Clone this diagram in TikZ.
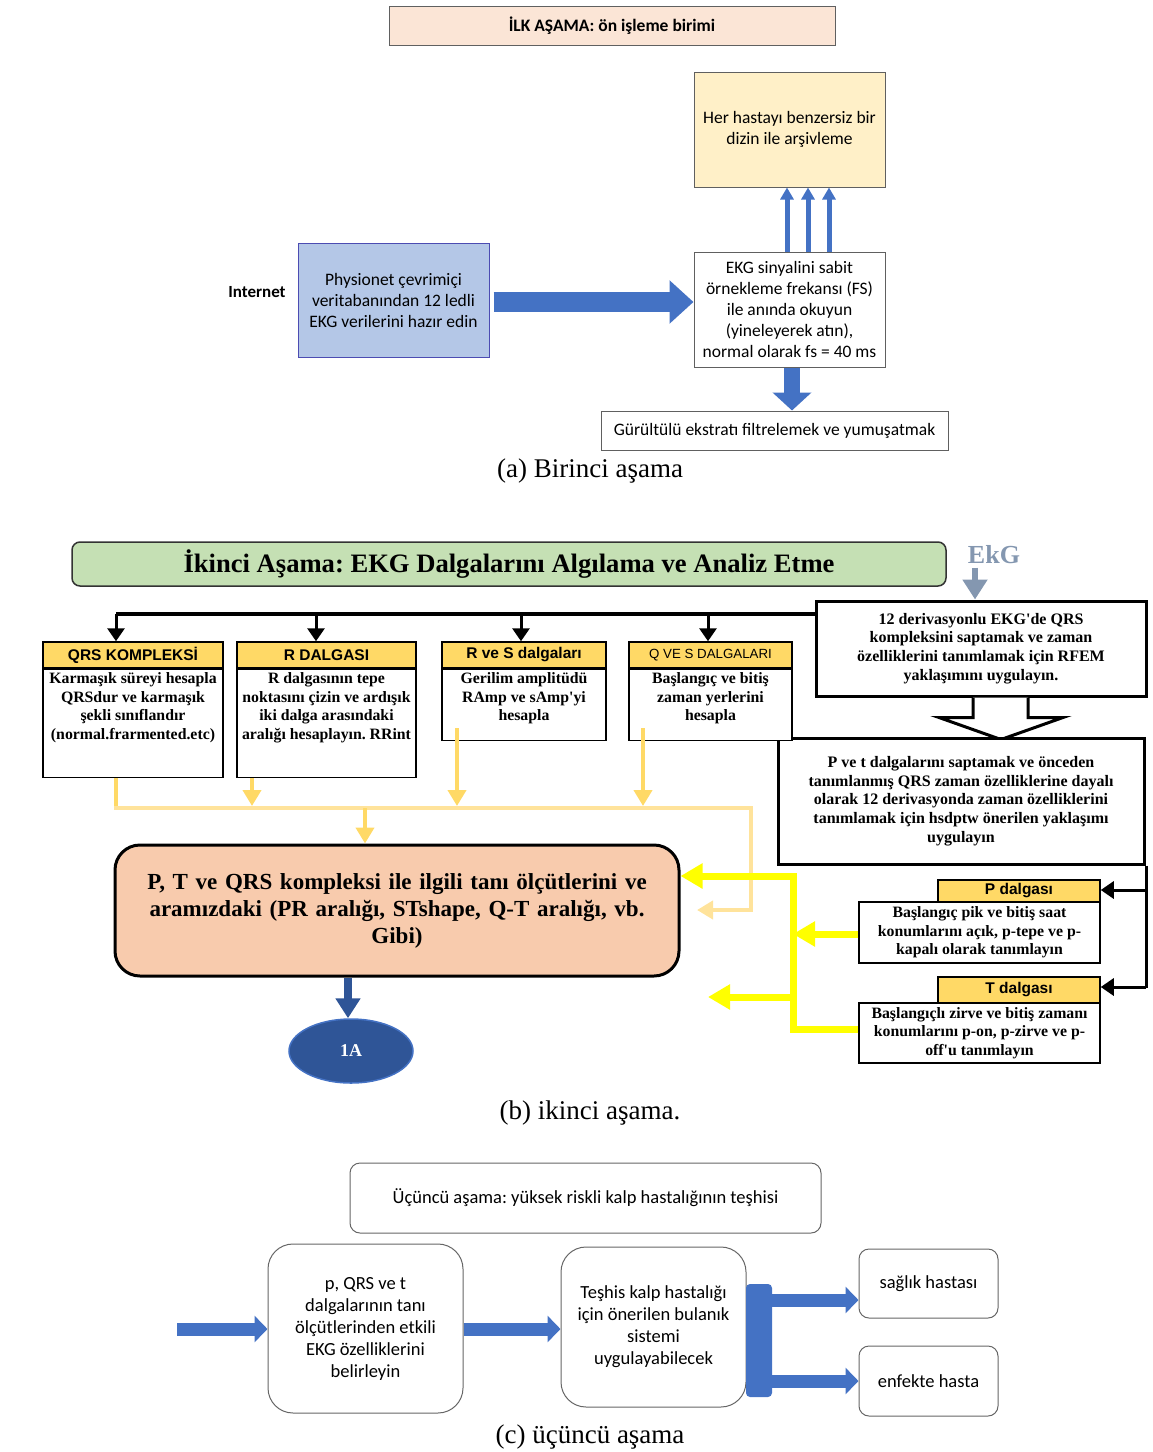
\documentclass[tikz,border=0pt]{standalone}
\usepackage{fontspec}
\setmainfont{Liberation Serif}
\newfontfamily\calfont{Carlito}
\newfontfamily\arifont{Liberation Sans}
\usetikzlibrary{shapes.geometric,arrows.meta,calc}
\definecolor{pinkA}{HTML}{FBE5D6}
\definecolor{yelA}{HTML}{FFF0C8}
\definecolor{blueA}{HTML}{B4C7E7}
\definecolor{blueB}{HTML}{4472C4}
\definecolor{greenB}{HTML}{C5E0B4}
\definecolor{goldc}{HTML}{FFD966}
\definecolor{lightY}{HTML}{FFE39B}
\definecolor{yelc}{HTML}{FFFF00}
\definecolor{peach}{HTML}{F8CBAD}
\definecolor{dblue}{HTML}{2F5597}
\definecolor{ekgc}{HTML}{8497B0}
\newcommand\topbox[3]{\parbox[c][#2][t]{#1}{\centering\vspace*{3pt}#3\par}}
\frenchspacing
\begin{document}
\begin{tikzpicture}[x=1pt,y=-1pt,
  abox/.style={draw=gray!75!black, line width=1, align=center, inner sep=0, font=\calfont\fontsize{17.5}{21}\selectfont},
  hdr/.style={draw=black, line width=1.5, fill=goldc, inner sep=0, font=\arifont\bfseries\fontsize{15.5}{17}\selectfont},
  bod/.style={draw=black, line width=1.5, fill=white, inner sep=0, font=\bfseries\fontsize{15.8}{18.7}\selectfont},
  bbox/.style={draw=black, line width=3, fill=white, align=center, inner sep=0, font=\bfseries\fontsize{16}{18.7}\selectfont},
  cbox/.style={draw=gray!80!black, line width=1, fill=white, align=center, inner sep=0, rounded corners=25, font=\calfont\fontsize{18.5}{22}\selectfont},
  captext/.style={font=\fontsize{27}{30}\selectfont},
  gtip/.style={-{Triangle[length=16pt,width=18pt]}},
  ytip/.style={-{Triangle[length=22pt,width=24pt]}},
  ktip/.style={-{Triangle[length=13pt,width=17pt]}},
  ctip/.style={-{Triangle[length=13pt,width=26pt]}},
]
\useasboundingbox (0,0) rectangle (1152,1452);

% ---------------- (a) ----------------
\node[abox, fill=pinkA, minimum width=446, minimum height=39] (t1) at (612,25.5) {\bfseries İLK AŞAMA: ön işleme birimi};
\node[abox, fill=yelA, minimum width=191, minimum height=115] (arch) at (789.5,129.5) {Her hastayı benzersiz bir\\dizin ile arşivleme};
\node[abox, fill=blueA, draw=gray!60!blue, minimum width=191, minimum height=114] (phys) at (393.5,300) {Physionet çevrimiçi\\veritabanından 12 ledli\\EKG verilerini hazır edin};
\node[font=\calfont\bfseries\fontsize{17}{18}\selectfont] (inet) at (257,292) {Internet};
\node[abox, fill=white, minimum width=191, minimum height=115] (ekg) at (789.5,309.5) {EKG sinyalini sabit\\örnekleme frekansı (FS)\\ile anında okuyun\\(yineleyerek atın),\\normal olarak fs = 40 ms};
\node[abox, fill=white, minimum width=347, minimum height=39] (filt) at (774.5,430.5) {Gürültülü ekstratı filtrelemek ve yumuşatmak};

\coordinate (a1) at ($(phys.east)+(4,2)$);
\draw[blueB, line width=20, -{Triangle[length=24pt,width=42pt]}] (a1) -- (a1 -| ekg.west);
\foreach \dx in {-2.5,18.5,39.5}
  \draw[blueB, line width=5, -{Triangle[length=12pt,width=13pt]}] ($(ekg.north)+(\dx,0)$) -- ($(arch.south)+(\dx,0)$);
\draw[blueB, line width=16, -{Triangle[length=18pt,width=38pt]}] ($(ekg.south)+(2.5,0)$) -- ($(filt.north)+(17.5,0)$);
\node[captext] (capa) at (590,471) {(a) Birinci aşama};

% ---------------- (b) ----------------
\node[draw=black!80, line width=1.5, rounded corners=8, fill=greenB, minimum width=874, minimum height=44, inner sep=0, font=\bfseries\fontsize{26.6}{30}\selectfont] (t2) at (509,564) {İkinci Aşama: EKG Dalgalarını Algılama ve Analiz Etme};
\node[text=ekgc, font=\bfseries\fontsize{26}{30}\selectfont] (ekgl) at (994,555) {EkG};

\node[bbox, minimum width=330, minimum height=95] (rfem) at (981,648.5) {12 derivasyonlu EKG\textquotesingle de QRS\\kompleksini saptamak ve zaman\\özelliklerini tanımlamak için RFEM\\yaklaşımını uygulayın.};
\draw[ekgc, line width=6, -{Triangle[length=20pt,width=24pt]}] ($(ekgl.south)+(-19,0)$) -- ($(rfem.north)+(-6,0)$);

\draw[line width=3, fill=white] ($(rfem.south)+(-8,0)$) -- ++(0,20) -- ++(-34,0) -- ($(rfem.south)+(20,42)$) -- ++(62,-22) -- ++(-35,0) -- ++(0,-20);
\node[bbox, minimum width=366, minimum height=126] (ptbox) at (961,801) {P ve t dalgalarını saptamak ve önceden\\tanımlanmış QRS zaman özelliklerine dayalı\\olarak 12 derivasyonda zaman özelliklerini\\tanımlamak için hsdptw önerilen yaklaşımı\\uygulayın};

\node[hdr, minimum width=180, minimum height=26] (h1) at (133,655) {QRS KOMPLEKSİ};
\node[bod, anchor=north] (b1) at (h1.south) {\topbox{180pt}{108pt}{Karmaşık süreyi hesapla\\QRSdur ve karmaşık\\şekli sınıflandır\\(normal.frarmented.etc)}};
\node[hdr, minimum width=179, minimum height=26] (h2) at (326.5,655) {R DALGASI};
\node[bod, anchor=north] (b2) at (h2.south) {\topbox{179pt}{108pt}{R dalgasının tepe\\noktasını çizin ve ardışık\\iki dalga arasındaki\\aralığı hesaplayın. RRint}};
\node[hdr, minimum width=164, minimum height=26] (h3) at (524,655) {R ve S dalgaları};
\node[bod, anchor=north] (b3) at (h3.south) {\topbox{164pt}{71pt}{Gerilim amplitüdü\\RAmp ve sAmp\textquotesingle yi\\hesapla}};
\node[hdr, minimum width=163, minimum height=26, font=\arifont\fontsize{13.3}{15}\selectfont] (h4) at (710.5,655) {Q VE S DALGALARI};
\node[bod, anchor=north] (b4) at (h4.south) {\topbox{163pt}{71pt}{Başlangıç ve bitiş\\zaman yerlerini\\hesapla}};

\coordinate (bus) at (116,614);
\draw[line width=4.5] (bus) -- (bus -| rfem.west);
\draw[line width=3, ktip] (116,614) -- (116,0 |- h1.north);
\draw[line width=3, ktip] (316,614) -- (316,0 |- h2.north);
\draw[line width=3, ktip] (521,614) -- (521,0 |- h3.north);
\draw[line width=3, ktip] (708,614) -- (708,0 |- h4.north);

\node[draw=black, line width=3, rounded corners=25, fill=peach, minimum width=564, minimum height=131, text width=550, align=center, inner sep=0, font=\bfseries\fontsize{23}{27}\selectfont] (diag) at (397,910.5) {P, T ve QRS kompleksi ile ilgili tanı ölçütlerini ve\\aramızdaki (PR aralığı, STshape, Q-T aralığı, vb.\\Gibi)};

% light yellow bus
\draw[goldc, line width=4] (116,0 |- b1.south) -- (116,808);
\draw[lightY, line width=4, gtip] (114,808) -- (751,808) -- (751,910) -- (697,910);
\draw[goldc, line width=4, gtip] (252,0 |- b2.south) -- (252,806);
\draw[goldc, line width=4, gtip] (457,728) -- (457,806);
\draw[goldc, line width=4, gtip] (643,728) -- (643,806);
\draw[goldc, line width=4, gtip] (365,808) -- (365,0 |- diag.north);

\node[ellipse, fill=dblue, draw=blueB, line width=1.5, minimum width=124, minimum height=64, inner sep=0, text=white, font=\bfseries\fontsize{18}{20}\selectfont] (oneA) at (351,1051) {1A};
\draw[dblue, line width=8, -{Triangle[length=20pt,width=24pt]}] (348,0 |- diag.south) -- (348,0 |- oneA.north);

\node[hdr, minimum width=162, minimum height=22] (ph) at (1019,891) {P dalgası};
\node[bod, minimum width=241, minimum height=61, align=center] (pb) at (979.5,932.5) {Başlangıç pik ve bitiş saat\\konumlarını açık, p-tepe ve p-\\kapalı olarak tanımlayın};
\node[hdr, minimum width=162, minimum height=26] (th) at (1019,990) {T dalgası};
\node[bod, minimum width=241, minimum height=60, align=center] (tb) at (979.5,1033) {Başlangıçlı zirve ve bitiş zamanı\\konumlarını p-on, p-zirve ve p-\\off\textquotesingle u tanımlayın};

\draw[line width=3] (1146,0 |- ptbox.south) -- (1146,988);
\draw[line width=3, ktip] (1146,890) -- (ph.east |- 0,890);
\draw[line width=3, ktip] (1146,987) -- (th.east |- 0,987);

\draw[yelc, line width=7, ytip] (tb.west |- 0,1029) -- (793,1029) -- (793,876) -- (diag.east |- 0,876);
\draw[yelc, line width=7, ytip] (pb.west |- 0,934) -- (793,934);
\draw[yelc, line width=7, ytip] (793,997) -- (708,997);

\node[captext] (capb) at (590,1113) {(b) ikinci aşama.};

% ---------------- (c) ----------------
\node[cbox, rounded corners=10, minimum width=471, minimum height=70] (t3) at (585.5,1198) {Üçüncü aşama: yüksek riskli kalp hastalığının teşhisi};
\node[cbox, minimum width=195, minimum height=169] (c1) at (365.5,1328.5) {p, QRS ve t\\dalgalarının tanı\\ölçütlerinden etkili\\EKG özelliklerini\\belirleyin};
\node[cbox, minimum width=185, minimum height=160] (c2) at (653.5,1327) {Teşhis kalp hastalığı\\için önerilen bulanık\\sistemi\\uygulayabilecek};
\node[cbox, rounded corners=10, minimum width=139, minimum height=69] (c3) at (928.5,1283.5) {sağlık hastası};
\node[cbox, rounded corners=10, minimum width=139, minimum height=70] (c4) at (928.5,1381) {enfekte hasta};
\node[fill=blueB, rounded corners=4, minimum width=26, minimum height=113, inner sep=0] (bar) at (759,1340.5) {};
\coordinate (cin) at (177,1329);
\draw[blueB, line width=13, ctip] (cin) -- (cin -| c1.west);
\draw[blueB, line width=13, ctip] (c1.east |- 0,1329) -- (c2.west |- 0,1329);
\draw[blueB, line width=13, ctip] (bar.east |- 0,1300) -- (c3.west |- 0,1300);
\draw[blueB, line width=13, ctip] (bar.east |- 0,1381) -- (c4.west |- 0,1381);
\node[captext] (capc) at (590,1437) {(c) üçüncü aşama};
\end{tikzpicture}
\end{document}
